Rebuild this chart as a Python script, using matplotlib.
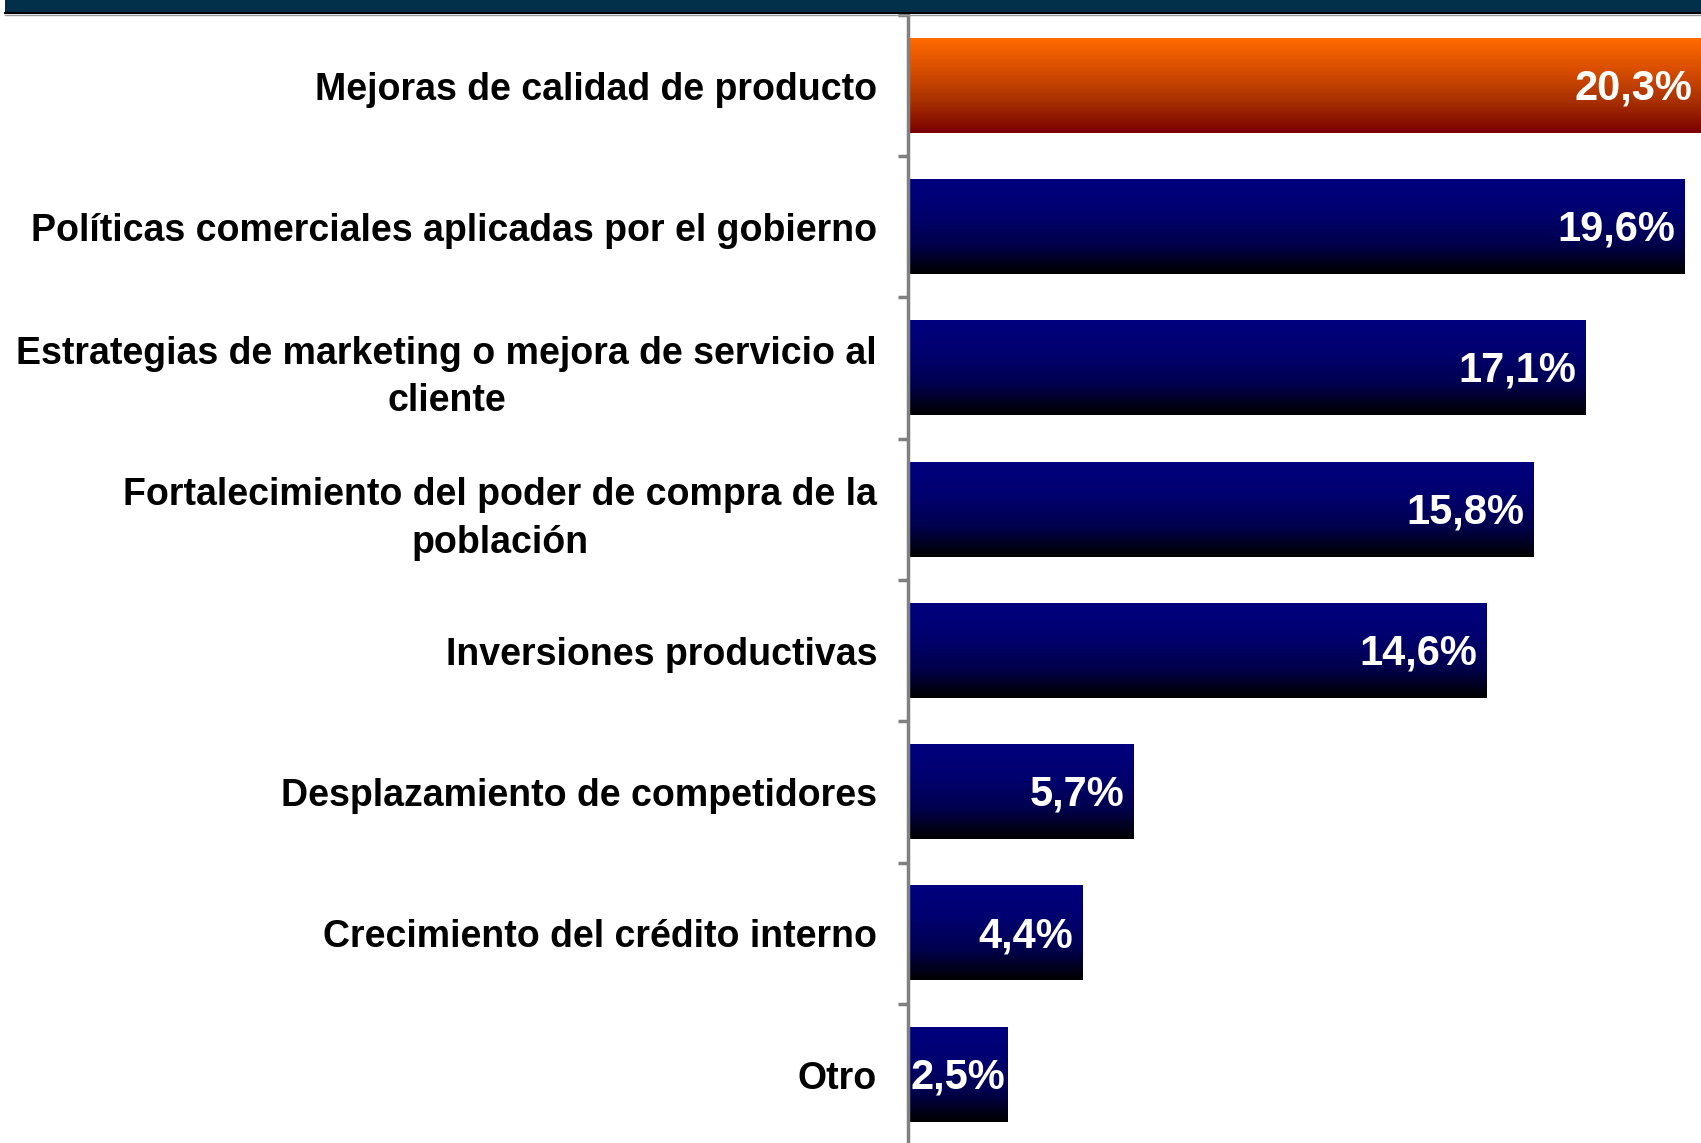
import numpy as np
import matplotlib
matplotlib.use("Agg")
import matplotlib.pyplot as plt
from matplotlib.colors import LinearSegmentedColormap
from matplotlib.patches import Rectangle
from matplotlib.lines import Line2D

plt.rcParams["font.family"] = ["Liberation Sans", "DejaVu Sans"]

categories = [
    "Mejoras de calidad de producto",
    "Políticas comerciales aplicadas por el gobierno",
    "Estrategias de marketing o mejora de servicio al\ncliente",
    "Fortalecimiento del poder de compra de la\npoblación",
    "Inversiones productivas",
    "Desplazamiento de competidores",
    "Crecimiento del crédito interno",
    "Otro",
]
values = [20.3, 19.6, 17.1, 15.8, 14.6, 5.7, 4.4, 2.5]
value_labels = ["20,3%", "19,6%", "17,1%", "15,8%", "14,6%", "5,7%", "4,4%", "2,5%"]
highlight = [True, False, False, False, False, False, False, False]

orange_cmap = LinearSegmentedColormap.from_list(
    "orange", ["#ff6a00", "#d84e00", "#a83000", "#7a0000"])
blue_cmap = LinearSegmentedColormap.from_list(
    "blue", ["#00007f", "#000070", "#000050", "#000000"])

fig = plt.figure(figsize=(17.01, 11.43), dpi=100)
ax = fig.add_axes([0.5336, -0.002, 0.4664, 0.989])

xmax = 20.03
bar_h = 0.667
grad = np.linspace(0, 1, 256).reshape(-1, 1)

for i, (v, hl) in enumerate(zip(values, highlight)):
    cmap = orange_cmap if hl else blue_cmap
    ax.imshow(grad, cmap=cmap, aspect="auto", interpolation="bilinear",
              extent=(0, v, i + bar_h / 2, i - bar_h / 2), zorder=2)
    x_lab = min(v, xmax) - 0.22
    if v < 3:
        x_lab = v - 0.04
    ax.text(x_lab, i + 0.02, value_labels[i], ha="right", va="center",
            color="white", fontsize=30, fontweight="bold", zorder=3)

ax.set_xlim(0, xmax)
ax.set_ylim(len(values) - 0.5, -0.5)

ax.set_yticks(range(len(categories)))
ax.set_yticklabels(categories, fontsize=27, fontweight="bold",
                   ha="right", multialignment="center", linespacing=1.4)
ax.tick_params(axis="y", which="major", length=0, pad=22)
ax.set_yticks(np.arange(-0.5, len(values), 1.0), minor=True)
ax.tick_params(axis="y", which="minor", length=7, width=2.5,
               color="#808080", direction="out")
ax.set_xticks([])

for s in ["top", "right", "bottom"]:
    ax.spines[s].set_visible(False)
ax.spines["left"].set_color("#808080")
ax.spines["left"].set_linewidth(2.5)

# dark band along the top edge
fig.patches.append(Rectangle((0.003, 0.989), 0.997, 0.011, transform=fig.transFigure,
                             facecolor="#022f4a", edgecolor="none", zorder=5))
fig.lines.append(Line2D([0.003, 1], [0.989, 0.989], transform=fig.transFigure,
                        color="black", linewidth=1.5, zorder=6))
fig.lines.append(Line2D([0.003, 1], [0.987, 0.987], transform=fig.transFigure,
                        color="#9a9a9a", linewidth=1.0, zorder=6))

fig.savefig("out.png", dpi=100, facecolor="white")
